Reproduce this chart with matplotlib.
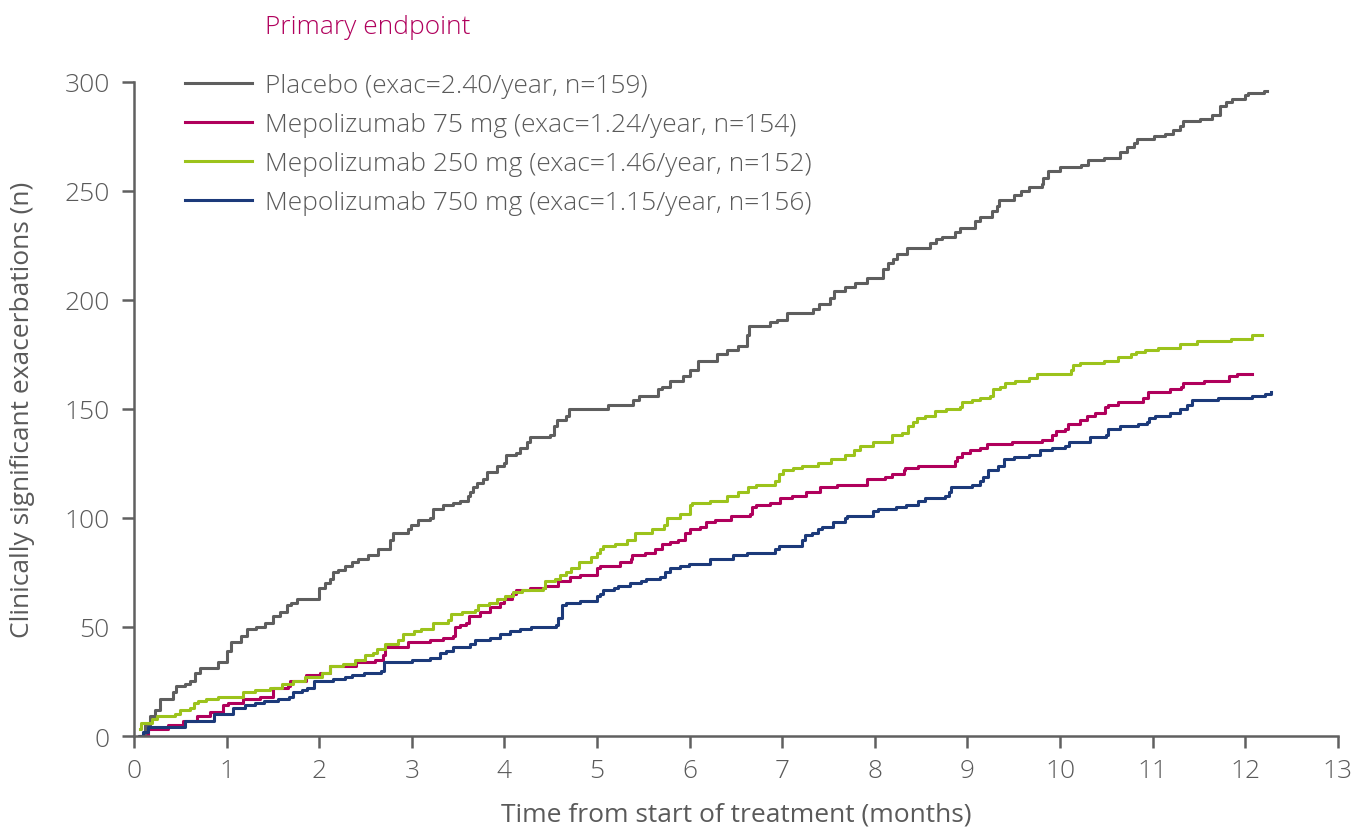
# Cumulative clinically significant exacerbations over time

import matplotlib
matplotlib.use('Agg')
import matplotlib.pyplot as plt

# Placebo (grey)
placebo_t = [0.05, 0.12, 0.17, 0.23, 0.28, 0.42, 0.45, 0.55, 0.60, 0.66, 0.71, 0.91, 1.00, 1.05, 1.16,
             1.22, 1.32, 1.41, 1.50, 1.58, 1.65, 1.70, 1.76, 2.00, 2.06, 2.12, 2.15, 2.20, 2.28, 2.35,
             2.42, 2.53, 2.64, 2.76, 2.80, 2.96, 2.99, 3.07, 3.20, 3.23, 3.34, 3.45, 3.52, 3.61, 3.63,
             3.66, 3.70, 3.77, 3.81, 3.92, 3.99, 4.02, 4.13, 4.17, 4.24, 4.28, 4.49, 4.53, 4.57, 4.67,
             4.70, 5.12, 5.39, 5.45, 5.66, 5.70, 5.79, 5.93, 6.00, 6.09, 6.29, 6.40, 6.52, 6.62, 6.64,
             6.87, 6.94, 7.05, 7.33, 7.40, 7.52, 7.56, 7.68, 7.79, 7.91, 8.09, 8.14, 8.20, 8.24, 8.35,
             8.60, 8.66, 8.72, 8.87, 8.92, 9.08, 9.14, 9.26, 9.32, 9.34, 9.50, 9.58, 9.66, 9.80, 9.82,
             9.87, 10.00, 10.23, 10.30, 10.47, 10.65, 10.72, 10.80, 10.83, 11.01, 11.13, 11.22, 11.29,
             11.33, 11.51, 11.64, 11.73, 11.79, 11.86, 12.00, 12.03, 12.20, 12.23]
placebo_n = [0, 5, 9, 12, 17, 20, 23, 24, 25, 29, 31, 34, 39, 43, 46,
             49, 50, 52, 55, 57, 60, 61, 63, 68, 70, 72, 75, 76, 78, 80,
             81, 83, 86, 90, 93, 95, 97, 99, 100, 104, 106, 107, 108, 110, 112,
             114, 116, 118, 121, 124, 125, 129, 130, 132, 135, 137, 138, 142, 145, 147,
             150, 152, 154, 156, 159, 160, 163, 165, 168, 172, 175, 177, 179, 184, 188,
             190, 191, 194, 196, 198, 201, 204, 206, 208, 210, 214, 217, 219, 221, 224,
             226, 228, 229, 231, 233, 236, 238, 241, 243, 246, 248, 250, 252, 253, 256,
             259, 261, 262, 264, 265, 268, 270, 272, 274, 275, 276, 278, 280,
             282, 283, 285, 289, 291, 292, 294, 295, 296, 296]

# Mepolizumab 75 mg (magenta)
mep75_t = [0.08, 0.15, 0.37, 0.53, 0.68, 0.82, 0.96, 1.02, 1.18, 1.36, 1.50, 1.66, 1.68, 1.86, 2.01,
           2.12, 2.40, 2.60, 2.69, 2.71, 2.96, 3.20, 3.34, 3.45, 3.47, 3.52, 3.59, 3.62, 3.74, 3.84,
           3.95, 3.99, 4.08, 4.12, 4.28, 4.44, 4.58, 4.71, 4.82, 5.00, 5.03, 5.25, 5.37, 5.38, 5.52,
           5.63, 5.70, 5.79, 5.87, 5.95, 6.00, 6.11, 6.18, 6.27, 6.45, 6.65, 6.67, 6.72, 6.87, 6.98,
           7.10, 7.26, 7.41, 7.59, 7.91, 7.92, 8.11, 8.18, 8.31, 8.33, 8.47, 8.87, 8.89, 8.94, 9.03,
           9.14, 9.21, 9.48, 9.80, 9.91, 9.96, 10.05, 10.08, 10.22, 10.29, 10.38, 10.49, 10.52, 10.63,
           10.90, 10.95, 11.19, 11.31, 11.33, 11.55, 11.82, 11.91, 12.07]
mep75_n = [0, 3, 5, 7, 9, 11, 14, 15, 17, 18, 22, 23, 25, 28, 29,
           32, 34, 35, 37, 41, 43, 44, 45, 46, 50, 51, 52, 55, 57, 59,
           61, 63, 65, 67, 68, 69, 71, 73, 74, 77, 78, 80, 81, 83, 84,
           86, 88, 89, 90, 93, 95, 96, 98, 99, 101, 102, 105, 106, 107, 109,
           110, 112, 114, 115, 116, 118, 119, 120, 122, 123, 124, 126, 128, 130, 131,
           132, 134, 135, 136, 138, 140, 141, 143, 145, 147, 148, 151, 152, 153,
           155, 158, 159, 160, 162, 163, 165, 166, 166]

# Mepolizumab 250 mg (green)
mep250_t = [0.06, 0.08, 0.19, 0.25, 0.44, 0.50, 0.60, 0.65, 0.69, 0.78, 0.91, 1.18, 1.31, 1.47, 1.60,
            1.72, 1.85, 2.03, 2.12, 2.26, 2.39, 2.49, 2.58, 2.62, 2.71, 2.85, 2.91, 3.02, 3.10, 3.23,
            3.39, 3.42, 3.54, 3.68, 3.72, 3.83, 3.92, 4.01, 4.09, 4.19, 4.42, 4.44, 4.55, 4.60, 4.67,
            4.72, 4.80, 4.94, 5.00, 5.03, 5.06, 5.19, 5.32, 5.41, 5.59, 5.72, 5.76, 5.90, 6.00, 6.03,
            6.22, 6.40, 6.52, 6.63, 6.72, 6.92, 6.96, 7.01, 7.12, 7.21, 7.39, 7.53, 7.68, 7.77, 7.84,
            7.98, 8.18, 8.29, 8.36, 8.41, 8.45, 8.54, 8.65, 8.77, 8.92, 8.94, 9.05, 9.14, 9.24, 9.28,
            9.35, 9.41, 9.51, 9.66, 9.75, 10.12, 10.14, 10.22, 10.47, 10.63, 10.77, 10.82, 10.92, 11.06,
            11.30, 11.48, 11.84, 12.07, 12.18]
mep250_n = [3, 6, 8, 9, 10, 12, 13, 15, 16, 17, 18, 20, 21, 22, 24,
            25, 27, 29, 32, 33, 35, 37, 38, 40, 42, 44, 47, 48, 49, 52,
            53, 56, 57, 58, 60, 61, 63, 64, 66, 67, 68, 71, 72, 74, 75,
            77, 80, 82, 84, 86, 87, 88, 90, 93, 95, 97, 100, 102, 106, 107,
            108, 110, 112, 114, 115, 117, 120, 122, 123, 124, 125, 127, 129, 131, 133,
            135, 138, 139, 142, 144, 146, 147, 149, 150, 151, 153, 154, 155, 156, 159,
            160, 162, 163, 164, 166, 168, 170, 171, 172, 174, 175, 176, 177, 178,
            180, 181, 182, 184, 184]

# Mepolizumab 750 mg (blue)
mep750_t = [0.07, 0.10, 0.15, 0.55, 0.86, 1.07, 1.20, 1.31, 1.40, 1.56, 1.67, 1.72, 1.81, 1.87, 1.94,
            2.15, 2.28, 2.35, 2.48, 2.67, 2.70, 3.00, 3.20, 3.30, 3.37, 3.45, 3.63, 3.68, 3.84, 3.95,
            4.06, 4.17, 4.29, 4.56, 4.58, 4.62, 4.67, 4.82, 5.00, 5.03, 5.06, 5.18, 5.23, 5.36, 5.48,
            5.53, 5.68, 5.73, 5.79, 5.90, 5.99, 6.22, 6.47, 6.62, 6.92, 6.96, 7.21, 7.25, 7.32, 7.39,
            7.43, 7.55, 7.68, 7.70, 7.98, 8.03, 8.23, 8.34, 8.47, 8.54, 8.76, 8.80, 8.82, 9.05, 9.14,
            9.17, 9.22, 9.33, 9.39, 9.50, 9.66, 9.78, 9.91, 10.05, 10.10, 10.32, 10.50, 10.52, 10.65,
            10.84, 10.94, 10.96, 11.03, 11.19, 11.30, 11.37, 11.42, 11.71, 12.07, 12.21, 12.28]
mep750_n = [0, 2, 4, 7, 10, 13, 14, 15, 16, 17, 18, 20, 21, 22, 25,
            26, 27, 28, 29, 30, 34, 35, 36, 38, 39, 41, 42, 44, 45, 47,
            48, 49, 50, 51, 54, 60, 61, 62, 64, 65, 67, 68, 69, 70, 71,
            72, 73, 75, 77, 78, 79, 81, 83, 84, 86, 87, 90, 92, 93, 95,
            96, 98, 100, 101, 103, 104, 105, 106, 108, 109, 110, 112, 114, 115, 117,
            119, 122, 124, 127, 128, 129, 131, 132, 133, 135, 137, 138, 141, 142,
            143, 144, 146, 147, 148, 150, 152, 154, 155, 156, 157, 158]

labels = ['Placebo (exac=2.40/year, n=159)',
          'Mepolizumab 75 mg (exac=1.24/year, n=154)',
          'Mepolizumab 250 mg (exac=1.46/year, n=152)',
          'Mepolizumab 750 mg (exac=1.15/year, n=156)']
colors = ['#5e5e5e', '#b0005c', '#9cc31c', '#1c3a7a']
x_ticks = list(range(0, 14))
y_ticks = [0, 50, 100, 150, 200, 250, 300]

text_color = '#5a5a5a'
fs = 19
plt.rcParams['font.family'] = ['Open Sans', 'DejaVu Sans']
plt.rcParams['font.weight'] = 'light'

fig = plt.figure(figsize=(13.52, 8.28), dpi=100)
ax = fig.add_axes([0.0991, 0.1099, 0.8905, 0.7899])

series = [(placebo_t, placebo_n), (mep75_t, mep75_n), (mep250_t, mep250_n), (mep750_t, mep750_n)]
for (t, n), lab, c in zip(series, labels, colors):
    ax.step(t, n, where='post', color=c, lw=2.2, label=lab)

ax.set_xlim(0, 13)
ax.set_ylim(0, 300)
ax.set_xticks(x_ticks)
ax.set_yticks(y_ticks)

for s in ['top', 'right']:
    ax.spines[s].set_visible(False)
for s in ['left', 'bottom']:
    ax.spines[s].set_color('#606060')
    ax.spines[s].set_linewidth(1.8)
ax.tick_params(axis='both', colors='#606060', width=1.8, length=8.5,
               labelsize=fs, labelcolor=text_color)
ax.tick_params(axis='y', pad=9)
ax.tick_params(axis='x', pad=7)

ax.set_xlabel('Time from start of treatment (months)', fontsize=fs, color=text_color, labelpad=14)
ax.set_ylabel('Clinically significant exacerbations (n)', fontsize=fs, color=text_color, labelpad=21)

leg = ax.legend(loc='upper left', bbox_to_anchor=(0.042, 1.013), frameon=False,
                fontsize=fs, handlelength=2.54, handletextpad=0.5, labelspacing=0.53,
                borderpad=0, borderaxespad=0)
for txt in leg.get_texts():
    txt.set_color(text_color)

fig.text(265 / 1352, 1 - 27 / 828, 'Primary endpoint', color='#b0005c', fontsize=fs,
         ha='left', va='center')

fig.savefig('out.png', dpi=100)
